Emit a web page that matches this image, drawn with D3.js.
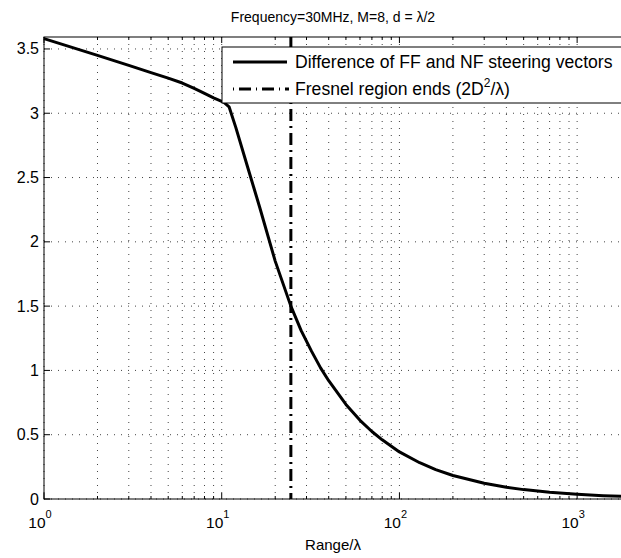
<!DOCTYPE html>
<html><head><meta charset="utf-8">
<script src="https://cdn.jsdelivr.net/npm/d3@7"></script>
<style>
body{margin:0;background:#fff;}
svg{display:block;font-family:"Liberation Sans",Arial,sans-serif;}
</style></head>
<body><svg id="c" width="621" height="558"></svg>
<script>
const titleText = "Frequency=30MHz, M=8, d = λ/2";
const xLabel = "Range/λ";
const legendLabels = ["Difference of FF and NF steering vectors", "Fresnel region ends (2D", "2", "/λ)"];
const rangeVals = [1, 2, 3, 4, 5, 6, 7, 8, 9, 10.3, 11, 12, 14, 16.4, 20, 24.5, 28, 32, 36, 40, 50, 60, 70, 80, 100, 130, 160, 200, 300, 400, 500, 700, 1000, 1400, 1800];
const diffVals  = [3.58, 3.45, 3.372, 3.316, 3.273, 3.235, 3.193, 3.154, 3.119, 3.085, 3.05, 2.89, 2.58, 2.263, 1.85, 1.50, 1.31, 1.15, 1.02, 0.92, 0.735, 0.612, 0.525, 0.46, 0.366, 0.282, 0.229, 0.183, 0.122, 0.092, 0.073, 0.052, 0.037, 0.026, 0.020];
const fresnel = 24.5;
const yTicks = [0, 0.5, 1, 1.5, 2, 2.5, 3, 3.5];
const xDecades = [1, 10, 100, 1000];
const xDomain = [1, 1800];
const yDomain = [0, 3.593];

const svg = d3.select("#c");
const L = 44, R = 622.5, T = 37, B = 499;
const x = d3.scaleLog().domain(xDomain).range([L, R]);
const y = d3.scaleLinear().domain(yDomain).range([B, T]);

const minors = [];
for (let d = 1; d <= 1000; d *= 10) for (let k = 2; k <= 9; k++) { const v = d * k; if (v <= xDomain[1]) minors.push(v); }

const grid = svg.append("g").attr("stroke", "#444").attr("stroke-width", 1).attr("stroke-dasharray", "1,6");
minors.concat(xDecades).forEach(v => {
  grid.append("line").attr("x1", x(v)).attr("x2", x(v)).attr("y1", T).attr("y2", B);
});
yTicks.forEach(v => {
  grid.append("line").attr("x1", L).attr("x2", R).attr("y1", y(v)).attr("y2", y(v));
});

svg.append("rect").attr("x", L).attr("y", T).attr("width", R - L).attr("height", B - T)
  .attr("fill", "none").attr("stroke", "#000").attr("stroke-width", 1);

const tk = svg.append("g").attr("stroke", "#000").attr("stroke-width", 1);
xDecades.forEach(v => {
  tk.append("line").attr("x1", x(v)).attr("x2", x(v)).attr("y1", B).attr("y2", B - 6);
  tk.append("line").attr("x1", x(v)).attr("x2", x(v)).attr("y1", T).attr("y2", T + 6);
});
minors.forEach(v => {
  tk.append("line").attr("x1", x(v)).attr("x2", x(v)).attr("y1", B).attr("y2", B - 3);
  tk.append("line").attr("x1", x(v)).attr("x2", x(v)).attr("y1", T).attr("y2", T + 3);
});
yTicks.forEach(v => {
  tk.append("line").attr("x1", L).attr("x2", L + 6).attr("y1", y(v)).attr("y2", y(v));
});

yTicks.forEach(v => {
  svg.append("text").attr("x", 39).attr("y", y(v) + 5.5).attr("text-anchor", "end")
    .attr("font-size", 16).text(d3.format("")(v));
});
xDecades.forEach(v => {
  const t = svg.append("text").attr("x", x(v) - 4).attr("y", 528).attr("text-anchor", "middle").attr("font-size", 15.5);
  t.append("tspan").text("10");
  t.append("tspan").attr("dy", -10).attr("font-size", 11).text(Math.round(Math.log10(v)));
});

const line = d3.line().x((d, i) => x(rangeVals[i])).y(d => y(d));
svg.append("path").datum(diffVals).attr("d", line).attr("fill", "none").attr("stroke", "#000")
  .attr("stroke-width", 3).attr("stroke-linejoin", "round");

svg.append("line").attr("x1", x(fresnel)).attr("x2", x(fresnel)).attr("y1", T).attr("y2", B)
  .attr("stroke", "#000").attr("stroke-width", 3).attr("stroke-dasharray", "12,5,2,5");

const lg = svg.append("g");
lg.append("rect").attr("x", 222).attr("y", 47).attr("width", 420).attr("height", 56)
  .attr("fill", "#fff").attr("stroke", "#000").attr("stroke-width", 1);
lg.append("line").attr("x1", 233).attr("x2", 287).attr("y1", 62).attr("y2", 62).attr("stroke", "#000").attr("stroke-width", 3);
lg.append("line").attr("x1", 233).attr("x2", 289).attr("y1", 89).attr("y2", 89).attr("stroke", "#000").attr("stroke-width", 3)
  .attr("stroke-dasharray", "1,5,12,5");
lg.append("text").attr("x", 295).attr("y", 68).attr("font-size", 17.6).text(legendLabels[0]);
const t2 = lg.append("text").attr("x", 295).attr("y", 95).attr("font-size", 17.6);
t2.append("tspan").text(legendLabels[1]);
t2.append("tspan").attr("dy", -8).attr("font-size", 12).text(legendLabels[2]);
t2.append("tspan").attr("dy", 8).text(legendLabels[3]);

svg.append("text").attr("x", 333).attr("y", 22).attr("text-anchor", "middle").attr("font-size", 14).text(titleText);
svg.append("text").attr("x", 333).attr("y", 550).attr("text-anchor", "middle").attr("font-size", 15).text(xLabel);
</script></body></html>
